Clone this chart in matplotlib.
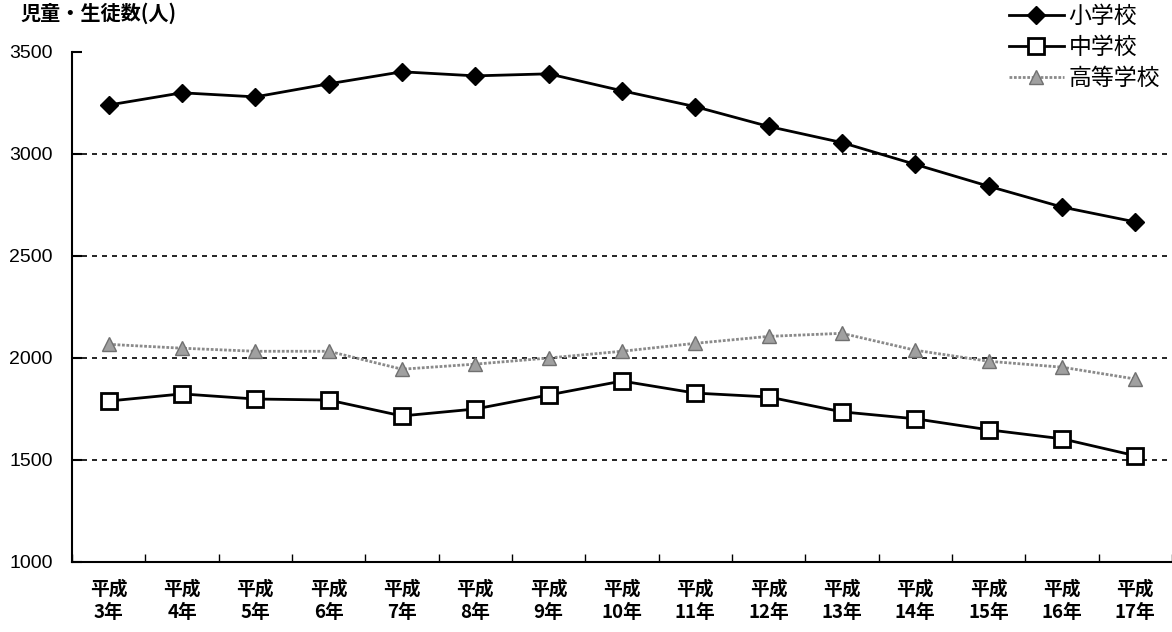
import matplotlib.pyplot as plt
import numpy as np

plt.rcParams['font.family'] = ['Noto Sans CJK JP', 'DejaVu Sans']

## data
years = ['平成\n3年', '平成\n4年', '平成\n5年', '平成\n6年', '平成\n7年', '平成\n8年', '平成\n9年',
         '平成\n10年', '平成\n11年', '平成\n12年', '平成\n13年', '平成\n14年', '平成\n15年',
         '平成\n16年', '平成\n17年']
shogakko = [3240, 3300, 3280, 3344, 3403, 3383, 3393, 3310, 3232, 3135, 3056, 2949, 2842, 2740, 2667]
chugakko = [1789, 1824, 1799, 1794, 1716, 1750, 1819, 1887, 1828, 1809, 1736, 1702, 1648, 1604, 1521]
kotogakko = [2067, 2048, 2033, 2033, 1945, 1970, 2000, 2033, 2072, 2106, 2121, 2038, 1984, 1955, 1897]
yticks = [1000, 1500, 2000, 2500, 3000, 3500]

fig = plt.figure(figsize=(11.72, 6.32), dpi=100)
ax = fig.add_axes([72/1172, 70/632, 1100/1172, 510/632])

x = np.arange(len(years))

for v in [1500, 2000, 2500, 3000]:
    ax.axhline(v, color='black', lw=1.2, ls=(0, (3, 3)), zorder=1)

ax.plot(x, shogakko, color='black', lw=2, marker='D', ms=9, label='小学校', zorder=3)
ax.plot(x, chugakko, color='black', lw=2, marker='s', ms=11, mfc='white', mew=2,
        label='中学校', zorder=3)
ax.plot(x, kotogakko, color='#8a8a8a', lw=2, ls=(0, (1, 0.6)), marker='^', ms=10,
        mfc='#a0a0a0', mec='#707070', label='高等学校', zorder=3)

ax.set_xlim(-0.5, len(years) - 0.5)
ax.set_ylim(1000, 3500)
ax.set_yticks(yticks)
ax.set_yticklabels([str(t) for t in yticks], family=['Liberation Sans'], fontsize=14)
ax.tick_params(axis='y', direction='in', length=7, width=1.5, pad=14)

ax.set_xticks(x)
ax.set_xticklabels(years, fontsize=13.5, fontweight='bold', linespacing=1.25)
ax.set_xticks(np.arange(len(years) + 1) - 0.5, minor=True)
ax.tick_params(axis='x', which='major', length=0, pad=13)
ax.tick_params(axis='x', which='minor', direction='in', length=6, width=1)

for s in ['top', 'right']:
    ax.spines[s].set_visible(False)
ax.spines['left'].set_linewidth(1.5)
ax.spines['bottom'].set_linewidth(1.5)

fig.text(20/1172, 1 - 13/632, '児童・生徒数(人)', fontsize=14.5, fontweight='bold', va='center')

ax.legend(loc='upper right', bbox_to_anchor=(0.99, 1.095), frameon=False, fontsize=16.5,
          handlelength=2.4, labelspacing=0.35, handletextpad=0.2, borderaxespad=0,
          borderpad=0.05)

fig.savefig('out.png', dpi=100)
